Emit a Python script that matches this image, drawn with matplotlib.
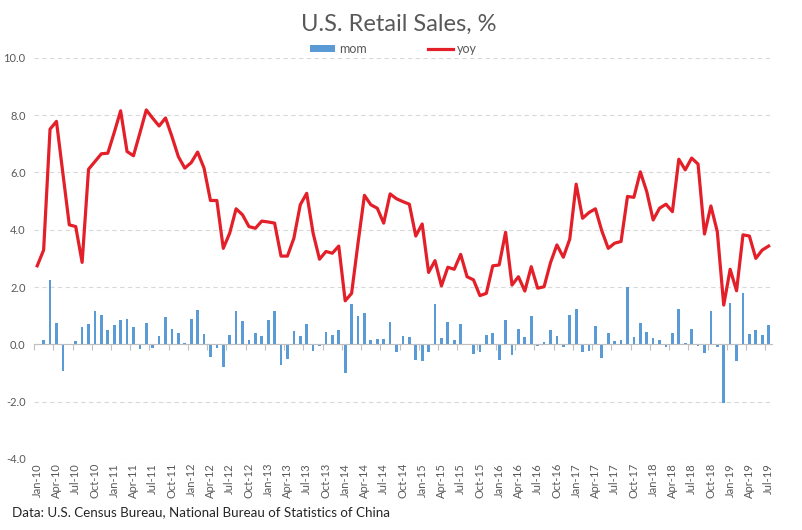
import numpy as np
import matplotlib
matplotlib.use("Agg")
from matplotlib import pyplot as plt

# Подписи месяцев: Jan-10 ... Jul-19
month_names = ['Jan', 'Feb', 'Mar', 'Apr', 'May', 'Jun', 'Jul', 'Aug', 'Sep', 'Oct', 'Nov', 'Dec']
months = [f'{month_names[k % 12]}-{10 + k // 12}' for k in range(115)]

# Месячное изменение, %
mom = [
    0.0, 0.15, 2.25, 0.76, -0.92, 0.02, 0.12, 0.60, 0.71, 1.16, 1.02, 0.50,
    0.68, 0.85, 0.88, 0.60, -0.15, 0.75, -0.12, 0.30, 0.97, 0.55, 0.41, 0.06,
    0.89, 1.20, 0.37, -0.45, -0.14, -0.80, 0.34, 1.17, 0.80, 0.14, 0.41, 0.30,
    0.86, 1.16, -0.72, -0.50, 0.47, 0.29, 0.71, -0.22, -0.05, 0.43, 0.33, 0.50,
    -0.99, 1.41, 0.99, 1.09, 0.15, 0.19, 0.19, 0.78, -0.26, 0.29, 0.26, -0.54,
    -0.57, -0.26, 1.41, 0.21, 0.78, 0.15, 0.71, 0.01, -0.34, -0.26, 0.33, 0.40,
    -0.54, 0.85, -0.37, 0.54, 0.26, 0.99, -0.06, 0.08, 0.50, 0.29, -0.08, 1.02,
    1.23, -0.26, -0.22, 0.64, -0.47, 0.40, 0.13, 0.15, 1.99, 0.26, 0.75, 0.43,
    0.22, 0.15, -0.08, 0.40, 1.23, 0.05, 0.54, -0.05, -0.29, 1.16, -0.08, -2.04,
    1.44, -0.57, 1.79, 0.36, 0.50, 0.33, 0.68,
]

# Годовое изменение, %
yoy = [
    2.74, 3.29, 7.51, 7.78, 5.97, 4.17, 4.11, 2.86, 6.11, 6.38, 6.65, 6.67,
    7.39, 8.15, 6.73, 6.58, 7.37, 8.18, 7.89, 7.62, 7.90, 7.25, 6.55, 6.15,
    6.34, 6.71, 6.15, 5.02, 5.02, 3.35, 3.88, 4.73, 4.52, 4.11, 4.05, 4.30,
    4.27, 4.23, 3.08, 3.08, 3.70, 4.87, 5.27, 3.88, 2.97, 3.24, 3.18, 3.43,
    1.52, 1.78, 3.53, 5.20, 4.87, 4.75, 4.23, 5.25, 5.08, 4.98, 4.89, 3.78,
    4.20, 2.51, 2.92, 2.04, 2.69, 2.62, 3.14, 2.36, 2.25, 1.70, 1.78, 2.74,
    2.77, 3.91, 2.07, 2.36, 1.86, 2.71, 1.96, 2.01, 2.85, 3.47, 3.04, 3.67,
    5.59, 4.40, 4.60, 4.73, 3.96, 3.35, 3.53, 3.59, 5.16, 5.13, 6.02, 5.33,
    4.34, 4.75, 4.89, 4.63, 6.46, 6.09, 6.50, 6.29, 3.85, 4.83, 3.93, 1.37,
    2.62, 1.87, 3.82, 3.78, 3.00, 3.29, 3.43,
]

x = np.arange(len(months))
gray = '#595959'

fig = plt.figure(figsize=(8.02, 5.30), dpi=100)
ax = fig.add_axes([0.0424, 0.134, 0.920, 0.757])

bars = ax.bar(x, mom, width=0.42, color='#5B9BD5', label='mom', zorder=2)
line, = ax.plot(x, yoy, color='#E3202A', linewidth=2.3, label='yoy', zorder=3)

ax.set_xlim(-0.5, len(months) - 0.5)
ax.set_ylim(-4, 10)
ax.set_yticks(np.arange(-4, 10.1, 2))
ax.set_yticklabels([f'{v:.1f}' for v in np.arange(-4, 10.1, 2)], fontsize=8, color=gray, family='Lato')
ax.tick_params(axis='y', length=0, pad=6)
ax.grid(axis='y', color='#D9D9D9', linestyle=(0, (4, 3)), linewidth=0.8, zorder=0)

for side in ['left', 'right', 'top']:
    ax.spines[side].set_visible(False)
ax.spines['bottom'].set_position(('data', 0))
ax.spines['bottom'].set_color('#BFBFBF')
ax.set_xticks(np.arange(-0.5, len(months), 3))
ax.set_xticklabels([])
ax.tick_params(axis='x', length=4, color='#BFBFBF', direction='out')

# Подписи оси X внизу области построения
for i in range(0, len(months), 3):
    ax.text(i, -0.01, months[i], transform=ax.get_xaxis_transform(), rotation=90,
            ha='center', va='top', fontsize=8, color=gray, family='Lato')

fig.text(0.4975, 0.955, 'U.S. Retail Sales, %', ha='center', va='center',
         fontsize=17, color=gray, family='Lato')
ax.legend([bars, line], ['mom', 'yoy'], loc='center', bbox_to_anchor=(0.487, 1.022),
          ncol=2, frameon=False, columnspacing=4.9, handlelength=2.0, handleheight=0.53,
          handletextpad=0.32, prop={'family': 'Lato', 'size': 9}, labelcolor=gray,
          borderpad=0)

fig.text(0.015, 0.033, 'Data: U.S. Census Bureau, National Bureau of Statistics of China',
         ha='left', va='center', fontsize=9.6, color='#262626', family='Lato')

fig.savefig('out.png', dpi=100)
